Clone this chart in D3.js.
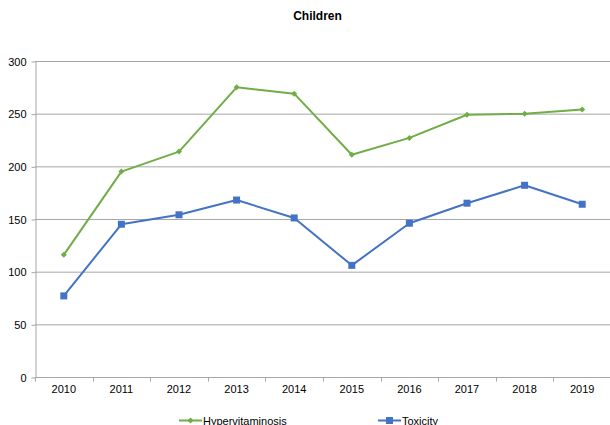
<!DOCTYPE html>
<html>
<head>
<meta charset="utf-8">
<script src="https://cdn.jsdelivr.net/npm/d3@7"></script>
<style>
  html, body { margin: 0; padding: 0; background: #fff; }
  svg { display: block; font-family: "Liberation Sans", Arial, sans-serif; }
</style>
</head>
<body>
<svg id="chart" width="610" height="425"></svg>
<script>
// Yearly counts for children
const years = ["2010", "2011", "2012", "2013", "2014", "2015", "2016", "2017", "2018", "2019"];
const hypervitaminosis = [116, 195, 214, 275, 269, 211, 227, 249, 250, 254];
const toxicity = [77, 145, 154, 168, 151, 106, 146, 165, 182, 164];
const yTicks = [0, 50, 100, 150, 200, 250, 300];
const seriesNames = ["Hypervitaminosis", "Toxicity"];

const svg = d3.select("#chart");
const margin = { left: 35, right: -1, top: 61, bottom: 48 };
const W = 610, H = 425;

const x = d3.scaleBand().domain(years).range([margin.left, W - margin.right]);
const y = d3.scaleLinear().domain([0, 300]).range([H - margin.bottom, margin.top]);

const gridColor = "#a6a6a6";

// Horizontal gridlines
svg.append("g")
  .selectAll("line")
  .data(yTicks.filter(d => d > 0))
  .join("line")
  .attr("x1", margin.left).attr("x2", W - margin.right)
  .attr("y1", d => y(d) + 0.5).attr("y2", d => y(d) + 0.5)
  .attr("stroke", gridColor).attr("stroke-width", 1);

// Y axis
const yAxis = svg.append("g")
  .attr("transform", `translate(${margin.left + 0.5},0.5)`)
  .call(d3.axisLeft(y).tickValues(yTicks).tickSize(4).tickPadding(5).tickSizeOuter(0));
yAxis.select(".domain").attr("stroke", gridColor);
yAxis.selectAll(".tick line").attr("stroke", gridColor);
yAxis.selectAll(".tick text").attr("fill", "#000").style("font-size", "11px")
  .style("font-family", "'Liberation Sans', Arial, sans-serif");

// X axis with tick marks on category boundaries
const xAxisG = svg.append("g").attr("transform", `translate(0,${y(0) + 0.5})`);
xAxisG.append("line")
  .attr("x1", margin.left).attr("x2", W - margin.right)
  .attr("stroke", gridColor);
const boundaries = years.map(d => x(d)).concat([x(years[years.length - 1]) + x.bandwidth()]);
xAxisG.selectAll("line.b")
  .data(boundaries)
  .join("line").attr("class", "b")
  .attr("x1", d => Math.round(d) + 0.5).attr("x2", d => Math.round(d) + 0.5)
  .attr("y1", 0).attr("y2", 4)
  .attr("stroke", gridColor);
xAxisG.selectAll("text")
  .data(years)
  .join("text")
  .attr("x", d => x(d) + x.bandwidth() / 2)
  .attr("y", 15)
  .attr("text-anchor", "middle")
  .style("font-size", "11px")
  .attr("fill", "#000")
  .text(d => d);

// Title
svg.append("text")
  .attr("x", 317.5).attr("y", 19.5)
  .attr("text-anchor", "middle")
  .style("font-size", "12px").style("font-weight", "bold")
  .text("Children");

const cx = d => x(d) + x.bandwidth() / 2;
const line = d3.line().x((d, i) => cx(years[i])).y(d => y(d));

const green = "#70ad47", blue = "#4472c4";

// Toxicity series
svg.append("path").datum(toxicity)
  .attr("d", line).attr("fill", "none")
  .attr("stroke", blue).attr("stroke-width", 2).attr("stroke-linejoin", "round");
svg.append("g").selectAll("rect")
  .data(toxicity)
  .join("rect")
  .attr("x", (d, i) => cx(years[i]) - 3.5)
  .attr("y", d => y(d) - 3.5)
  .attr("width", 7).attr("height", 7)
  .attr("fill", blue);

// Hypervitaminosis series: small diamonds (squares turned 45°)
svg.append("path").datum(hypervitaminosis)
  .attr("d", line).attr("fill", "none")
  .attr("stroke", green).attr("stroke-width", 2).attr("stroke-linejoin", "round");
const diamond = d3.symbol().type(d3.symbolSquare).size(18);
svg.append("g").selectAll("path")
  .data(hypervitaminosis)
  .join("path")
  .attr("d", diamond)
  .attr("transform", (d, i) => `translate(${cx(years[i])},${y(d)}) rotate(45)`)
  .attr("fill", green);

// Legend
const legend = svg.append("g");
const legendItems = [
  { name: seriesNames[0], color: green, x0: 179, marker: "diamond" },
  { name: seriesNames[1], color: blue, x0: 378, marker: "square" }
];
const ly = 420.5;
legendItems.forEach(it => {
  legend.append("line")
    .attr("x1", it.x0).attr("x2", it.x0 + 23)
    .attr("y1", ly).attr("y2", ly)
    .attr("stroke", it.color).attr("stroke-width", 2);
  if (it.marker === "diamond") {
    legend.append("path").attr("d", diamond)
      .attr("transform", `translate(${it.x0 + 11.5},${ly}) rotate(45)`).attr("fill", it.color);
  } else {
    legend.append("rect")
      .attr("x", it.x0 + 11.5 - 3.5).attr("y", ly - 3.5)
      .attr("width", 7).attr("height", 7).attr("fill", it.color);
  }
  legend.append("text")
    .attr("x", it.x0 + 24).attr("y", ly + 4)
    .style("font-size", "11px").attr("fill", "#000")
    .text(it.name);
});
</script>
</body>
</html>
